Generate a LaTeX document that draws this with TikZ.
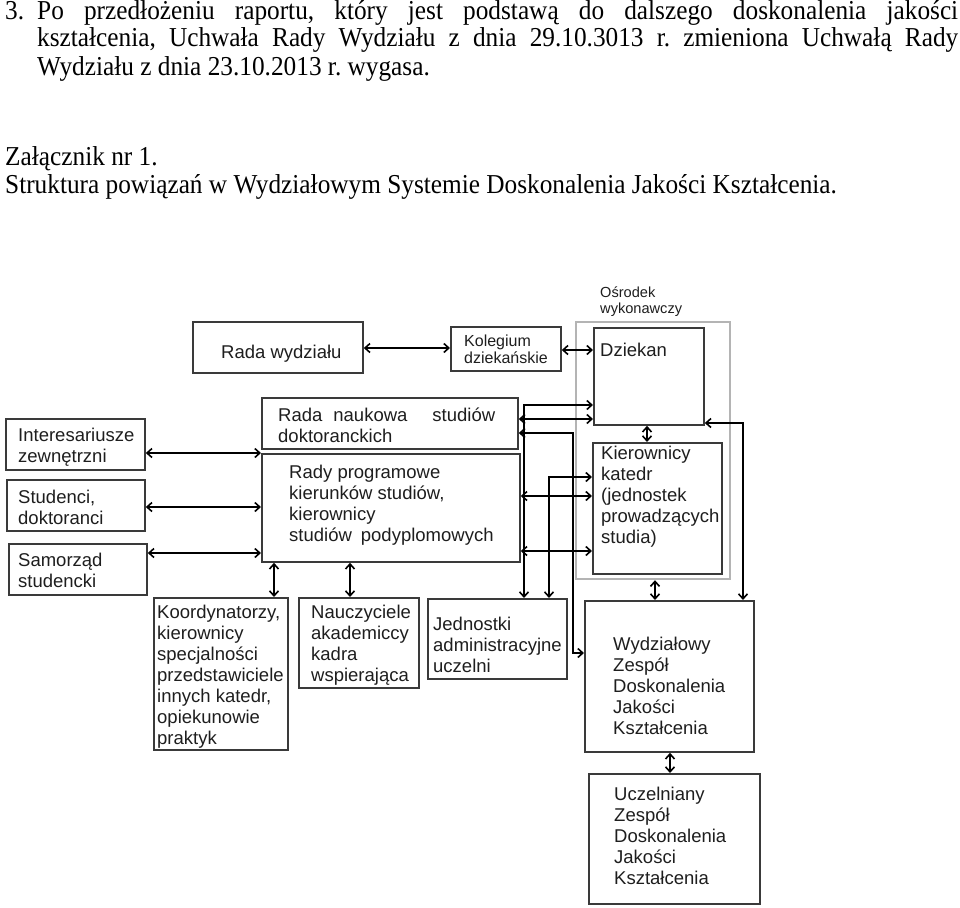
\documentclass[tikz,border=0pt]{standalone}
\usepackage{fontspec}
\setmainfont{Liberation Serif}
\newfontfamily\arialf{Liberation Sans}
\usetikzlibrary{arrows.meta,calc}
\definecolor{boxc}{HTML}{3A3A3A}
\definecolor{grayc}{HTML}{B4B4B4}
\definecolor{txtc}{HTML}{1E1E1E}
\newcommand\mkbox[6][box]{\node[#1, minimum width={#5-#3}, minimum height={#6-#4}] (#2) at (#3,#4) {};}
\newcommand\hdrline[1]{\scalebox{1}[1.08]{#1}}
\frenchspacing
\begin{document}
\begin{tikzpicture}[x=1pt,y=-1pt,
  box/.style={draw=boxc, line width=1.8pt, rectangle, inner sep=0pt, anchor=north west},
  graybox/.style={draw=grayc, line width=2.2pt, rectangle, inner sep=0pt, anchor=north west},
  txt/.style={anchor=base west, inner sep=0pt, text=txtc, font=\arialf\fontsize{18.5}{21}\selectfont},
  smalltxt/.style={anchor=base west, inner sep=0pt, text=txtc, font=\arialf\fontsize{16}{17}\selectfont},
  tinytxt/.style={anchor=base west, inner sep=0pt, text=txtc, font=\arialf\fontsize{14.6}{16.5}\selectfont},
  con/.style={line width=1.6pt, draw=black, {Straight Barb[length=5pt,width=9pt]}-{Straight Barb[length=5pt,width=9pt]}},
  hdr/.style={anchor=base west, inner sep=0pt, text=black, font=\fontsize{25.3}{28}\selectfont}
]
\fill[white] (0,0) rectangle (960,907);
\useasboundingbox (0,0) rectangle (960,907);

% header text
\node[hdr] (h1) at (5,20) {\hdrline{3.}};
\node[hdr] (h1b) at (37,20) {\hdrline{\makebox[921pt][s]{Po przedłożeniu raportu, który jest podstawą do dalszego doskonalenia jakości}}};
\node[hdr] (h2) at (37,47) {\hdrline{\makebox[921pt][s]{kształcenia, Uchwała Rady Wydziału z dnia 29.10.3013 r. zmieniona Uchwałą Rady}}};
\node[hdr] (h3) at (37,75) {\hdrline{Wydziału z dnia 23.10.2013 r. wygasa.}};
\node[hdr] (z1) at (5,165) {\hdrline{Załącznik nr 1.}};
\node[hdr] (z2) at (5,193) {\hdrline{Struktura powiązań w Wydziałowym Systemie Doskonalenia Jakości Kształcenia.}};

% boxes
\mkbox[graybox]{os}{575}{321}{729}{578}
\mkbox{rw}{192}{321}{362}{372}
\mkbox{kol}{450}{326}{560}{370}
\mkbox{dz}{593}{327}{703}{424}
\mkbox{kk}{592}{442}{721}{573}
\mkbox{rn}{261}{397}{517}{448}
\mkbox{rp}{261}{453}{519}{561}
\mkbox{ie}{5}{418}{144}{469}
\mkbox{st}{6}{479}{144}{530}
\mkbox{sa}{8}{543}{146}{594}
\mkbox{ko}{153}{597}{287}{749}
\mkbox{na}{298}{597}{418}{687}
\mkbox{je}{427}{598}{566}{678}
\mkbox{wz}{584}{600}{753}{751}
\mkbox{uz}{588}{773}{759}{903}

% texts
\node[tinytxt] (t-os) at (600,297) {\parbox[t]{120pt}{Ośrodek\\wykonawczy}};
\node[txt] (t-rw) at (221,358) {Rada wydziału};
\node[smalltxt] (t-kol) at (464,346) {\parbox[t]{100pt}{Kolegium\\dziekańskie}};
\node[txt] (t-dz) at (600,356) {Dziekan};
\node[txt] (t-rn) at (278,421) {\parbox[t]{240pt}{Rada\hspace{11pt}naukowa\hspace{25pt}studiów\\doktoranckich}};
\node[txt] (t-rp) at (289,478) {\parbox[t]{240pt}{Rady programowe\\kierunków studiów,\\kierownicy\\studiów\hspace{9pt}podyplomowych}};
\node[txt] (t-ie) at (18,441) {\parbox[t]{130pt}{Interesariusze\\zewnętrzni}};
\node[txt] (t-st) at (18,503) {\parbox[t]{130pt}{Studenci,\\doktoranci}};
\node[txt] (t-sa) at (18,566) {\parbox[t]{130pt}{Samorząd\\studencki}};
\node[txt] (t-kk) at (601,459) {\parbox[t]{130pt}{Kierownicy\\katedr\\(jednostek\\prowadzących\\studia)}};
\node[txt] (t-ko) at (157,618) {\parbox[t]{140pt}{Koordynatorzy,\\kierownicy\\specjalności\\przedstawiciele\\innych katedr,\\opiekunowie\\praktyk}};
\node[txt] (t-na) at (311,618) {\parbox[t]{120pt}{Nauczyciele\\akademiccy\\kadra\\wspierająca}};
\node[txt] (t-je) at (433,630) {\parbox[t]{140pt}{Jednostki\\administracyjne\\uczelni}};
\node[txt] (t-wz) at (613,650) {\parbox[t]{140pt}{Wydziałowy\\Zespół\\Doskonalenia\\Jakości\\Kształcenia}};
\node[txt] (t-uz) at (614,800) {\parbox[t]{140pt}{Uczelniany\\Zespół\\Doskonalenia\\Jakości\\Kształcenia}};

% helper coordinates
\coordinate (c1) at (524,405);
\coordinate (c2) at (560,419);
\coordinate (c3) at (573,433);
\coordinate (c4) at (573,653);
\coordinate (c5) at (549,477);
\coordinate (c6) at (560,496);
\coordinate (c7) at (560,551);
\coordinate (c8) at (743,423);
\coordinate (c9) at (200,507);
\coordinate (c10) at (200,553);
\coordinate (c11) at (274,580);
\coordinate (c12) at (350,580);
\coordinate (c13) at (647,432);
\coordinate (c14) at (655,588);
\coordinate (c15) at (670,762);
\coordinate (c16) at (400,348);
\coordinate (c17) at (575,350);

% connectors
\draw[con] (c16 -| rw.east) -- (c16 -| kol.west);
\draw[con] (c17 -| kol.east) -- (c17 -| dz.west);
\draw[con] (c13 |- dz.south) -- (c13 |- kk.north);
\draw[con] (c14 |- os.south) -- (c14 |- wz.north);
\draw[con] (c15 |- wz.south) -- (c15 |- uz.north);
\draw[con] (ie.east |- rp.north) -- (rp.north west);
\draw[con] (c9 -| st.east) -- (c9 -| rp.west);
\draw[con] (c10 -| sa.east) -- (c10 -| rp.west);
\draw[con] (c11 |- rp.south) -- (c11 |- ko.north);
\draw[con] (c12 |- rp.south) -- (c12 |- na.north);
\draw[con] (c1 -| dz.west) -- (c1) -- (c1 |- je.north);
\draw[con] (c2 -| rn.east) -- (c2 -| dz.west);
\draw[con] (c3 -| rn.east) -- (c3) -- (c4) -- (c4 -| wz.west);
\draw[con] (c5 -| kk.west) -- (c5) -- (c5 |- je.north);
\draw[con] (c6 -| rp.east) -- (c6 -| kk.west);
\draw[con] (c7 -| rp.east) -- (c7 -| kk.west);
\draw[con] (c8 -| dz.east) -- (c8) -- (c8 |- wz.north);
\end{tikzpicture}
\end{document}
